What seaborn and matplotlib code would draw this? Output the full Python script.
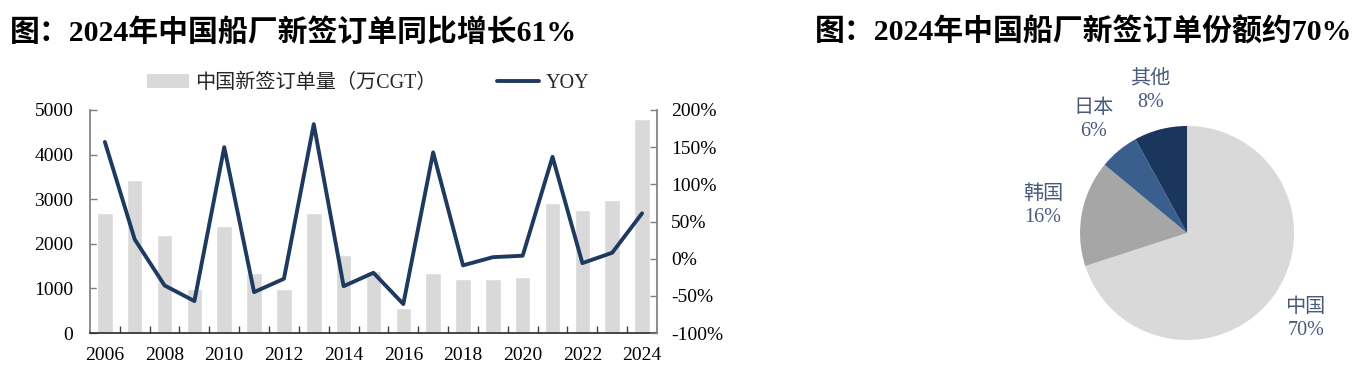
import matplotlib
matplotlib.use('Agg')
import matplotlib.pyplot as plt
import matplotlib.ticker as mticker
from matplotlib.patches import Patch
from matplotlib.lines import Line2D
import numpy as np
import pandas as pd
import seaborn as sns

# 左图数据：中国新签订单量（万CGT）与同比
years = [str(y) for y in range(2006, 2025)]
orders = [2700, 3420, 2200, 980, 2390, 1350, 990, 2700, 1750, 1400,
          570, 1340, 1200, 1210, 1250, 2920, 2760, 2990, 4790]
yoy = [1.57, 0.26, -0.36, -0.57, 1.50, -0.45, -0.27, 1.81, -0.37, -0.19,
       -0.61, 1.43, -0.09, 0.02, 0.04, 1.37, -0.06, 0.08, 0.61]

# 右图数据：2024年新签订单份额
share_names = ['中国', '韩国', '日本', '其他']
share_values = [70, 16, 6, 8]
share_colors = ['#D9D9D9', '#A6A6A6', '#3A5F8F', '#1B365D']

bar_color = '#D9D9D9'
line_color = '#1F3A5F'
label_color = '#4A5A7A'

sns.set_theme(style='white')
plt.rcParams['font.family'] = ['Liberation Serif', 'Noto Sans CJK SC']
plt.rcParams['axes.unicode_minus'] = False

fig = plt.figure(figsize=(13.67, 3.78), dpi=100)

# ---- 柱+线 ----
ax = fig.add_axes([0.0658, 0.119, 0.4148, 0.590])
df = pd.DataFrame({'year': years, 'orders': orders})
sns.barplot(data=df, x='year', y='orders', color=bar_color, saturation=1,
            width=0.52, ax=ax)
ax.set_xlim(-0.5, len(years) - 0.5)
ax.set_ylim(0, 5000)
ax.set_yticks(np.arange(0, 5001, 1000))
ax.set_xlabel('')
ax.set_ylabel('')
ax.set_xticks(np.arange(0, len(years), 2))
ax.set_xticklabels(years[::2])
ax.set_xticks(np.arange(0.5, len(years) - 1, 1), minor=True)
ax.tick_params(axis='x', which='major', length=0, pad=10, labelsize=14, labelcolor='black')
ax.tick_params(axis='x', which='minor', direction='in', length=5, width=1, color='#404040', bottom=True)
ax.tick_params(axis='y', direction='in', length=5, width=1, color='#7F7F7F', pad=12,
               labelsize=14, labelcolor='black', left=True)

ax2 = ax.twinx()
sns.lineplot(x=np.arange(len(years)), y=yoy, ax=ax2, color=line_color, linewidth=2.8)
ax2.set_xlim(-0.5, len(years) - 0.5)
ax2.set_ylim(-1, 2)
ax2.set_yticks(np.arange(-1, 2.01, 0.5))
ax2.yaxis.set_major_formatter(mticker.PercentFormatter(1.0, decimals=0))
ax2.tick_params(axis='y', direction='in', length=5, width=1, color='#7F7F7F', pad=10,
                labelsize=14, labelcolor='black', right=True)
ax2.set_ylabel('')

for s in ['top', 'right']:
    ax.spines[s].set_visible(False)
for s in ['top', 'left', 'bottom']:
    ax2.spines[s].set_visible(False)
ax.spines['left'].set_color('#7F7F7F')
ax.spines['bottom'].set_color('#303030')
ax2.spines['right'].set_color('#7F7F7F')

handles = [Patch(facecolor=bar_color, edgecolor='none'),
           Line2D([], [], color=line_color, linewidth=2.8)]
ax.legend(handles, ['中国新签订单量（万CGT）', 'YOY'], loc='center',
          bbox_to_anchor=(0.49, 1.12), ncol=2, frameon=False, fontsize=14.5,
          handlelength=2.1, handleheight=0.75, handletextpad=0.3, columnspacing=3.0)

# ---- 饼图 ----
axp = fig.add_axes([0.7705, 0.0298, 0.1957, 0.7077])
wedges, texts = axp.pie(share_values,
                        labels=[f'{n}\n{v}%' for n, v in zip(share_names, share_values)],
                        colors=share_colors, startangle=90, counterclock=False,
                        labeldistance=1.37, wedgeprops=dict(linewidth=0),
                        textprops=dict(color=label_color, fontsize=14.5, linespacing=1.3))
for t in texts:
    t.set_horizontalalignment('center')
axp.set_aspect('equal')

# ---- 标题 ----
fig.text(0.0073, 0.915, '图：2024年中国船厂新签订单同比增长61%', fontsize=21.5,
         fontweight='bold', ha='left', va='center', color='black')
fig.text(0.989, 0.915, '图：2024年中国船厂新签订单份额约70%', fontsize=21.5,
         fontweight='bold', ha='right', va='center', color='black')

fig.savefig('out.png', dpi=100)
